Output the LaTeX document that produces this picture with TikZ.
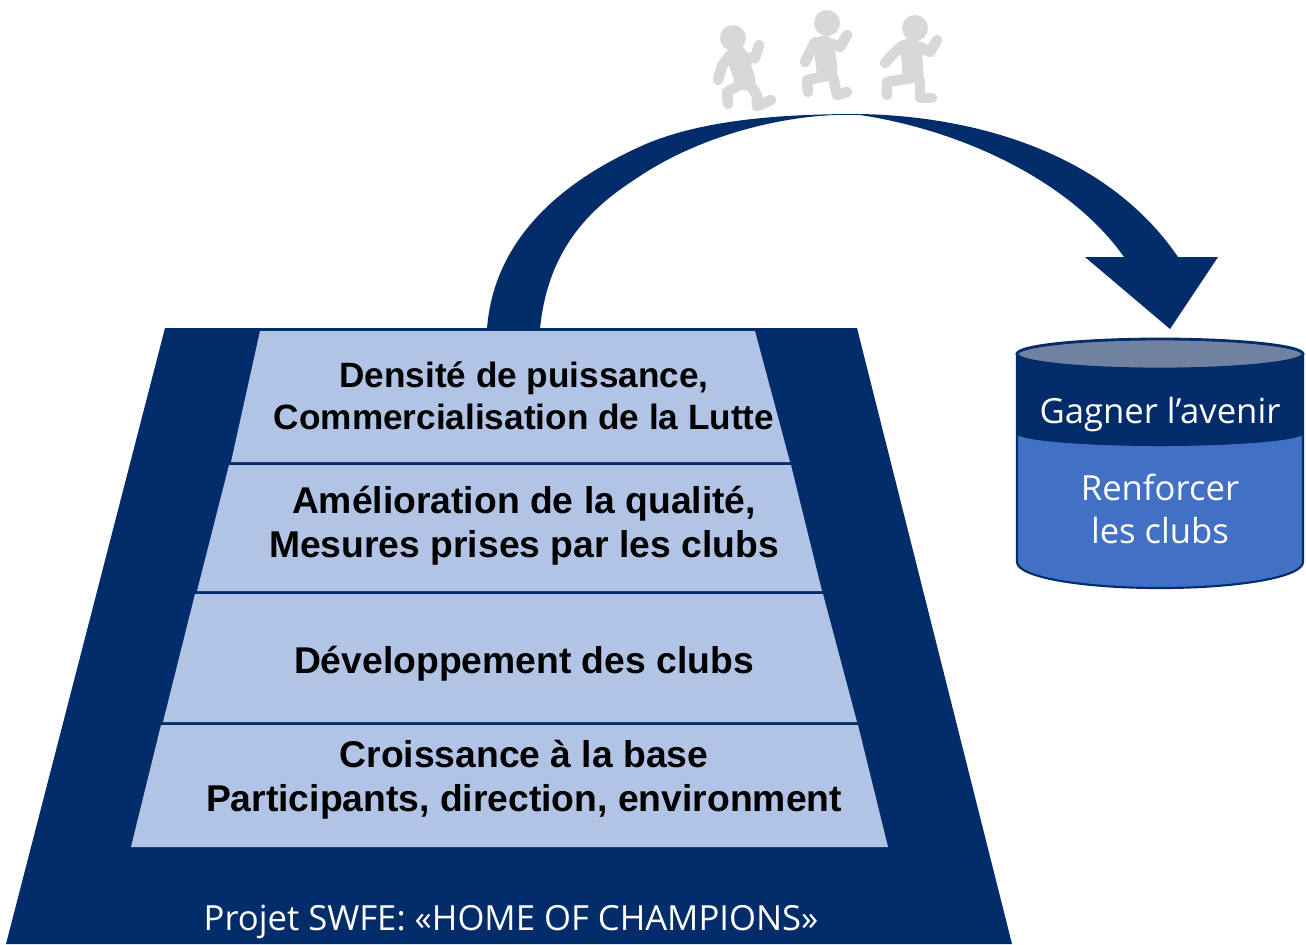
\documentclass[tikz,border=0pt]{standalone}
\usepackage{fontspec}
\setmainfont{Liberation Sans}
\newfontfamily\capfont{Open Sans}
\usetikzlibrary{positioning}
\definecolor{navy1}{RGB}{3,45,106}
\definecolor{pale1}{RGB}{177,196,230}
\definecolor{blue1}{RGB}{66,112,196}
\definecolor{lid1}{RGB}{112,130,160}
\definecolor{grey1}{RGB}{216,216,218}

\tikzset{
    layer/.style={fill=pale1,draw=none},
    steptext/.style={font=\fontsize{10.6}{12.6}\selectfont\bfseries,align=center,text=black,inner sep=0pt},
    toptext/.style={steptext,font=\fontsize{10}{12}\selectfont\bfseries},
    captext/.style={font=\capfont\fontsize{9.85}{12.4}\selectfont,align=center,text=white,inner sep=0pt},
    runlimb/.style={draw=grey1,line width=3pt,line cap=round,line join=round},
    runbody/.style={runlimb,line width=6pt}
}

\begin{document}
\begin{tikzpicture}[x=0.01cm,y=-0.01cm]
    \useasboundingbox (0,0) rectangle (1306,944);

    % big arrow
    \fill[navy1] (487,329) .. controls (492,260) and (535,195) .. (637,148)
        .. controls (700,118) and (790,114) .. (860,114)
        .. controls (970,116) and (1105,150) .. (1178,257)
        -- (1218,257) -- (1170,329) -- (1085,257) -- (1124,257)
        .. controls (1070,180) and (960,130) .. (860,115)
        .. controls (790,112) and (700,135) .. (637,178)
        .. controls (595,205) and (548,245) .. (540,329) -- cycle;

    % pyramid
    \fill[navy1] (165,328) -- (857,328) -- (1012,944) -- (6,944) -- cycle;
    \fill[layer] (260,331) -- (755,331) -- (790,462) -- (231,462) -- cycle;
    \fill[layer] (229,465) -- (791,465) -- (822,591) -- (197,591) -- cycle;
    \fill[layer] (195,594) -- (823,594) -- (857,722) -- (163,722) -- cycle;
    \fill[layer] (161,725) -- (858,725) -- (888,847) -- (131,847) -- cycle;

    \node[toptext]  (power)   at (524,396) {Densité de puissance,\\Commercialisation de la Lutte};
    \node[steptext] (quality) at (524,526) {Amélioration de la qualité,\\Mesures prises par les clubs};
    \node[steptext] (dev)     at (524,664) {Développement des clubs};
    \node[steptext] (base)    at (524,780) {Croissance à la base\\Participants, direction, environment};
    \node[captext]  (swfe)    at (511,922) {Projet SWFE: «HOME OF CHAMPIONS»};

    % cylinder
    \fill[blue1,draw=navy1,line width=0.6pt] (1017,354) -- (1017,562) .. controls (1017,577) and (1081,588) .. (1160,588)
        .. controls (1239,588) and (1303,577) .. (1303,562) -- (1303,354) -- cycle;
    \fill[navy1] (1017,354) -- (1017,435) .. controls (1030,442) and (1095,446) .. (1160,446)
        .. controls (1225,446) and (1290,442) .. (1303,435) -- (1303,354) -- cycle;
    \fill[lid1,draw=navy1,line width=0.8pt] (1160,354) ellipse (143 and 15);

    \node[captext] (future) at (1160,414) {Gagner l’avenir};
    \node[captext] (clubs)  at (1160,509) {Renforcer\\les clubs};

    % runners
    \fill[grey1] (733,38) circle (13);
    \draw[runbody] (737,56) -- (745,80);
    \draw[runlimb] (730,55) -- (722,66) -- (718,80);
    \draw[runlimb] (742,58) -- (755,58) -- (759,45);
    \draw[runlimb] (745,82) -- (727,92) -- (728,104);
    \draw[runlimb] (750,85) -- (757,95) -- (757,106) -- (771,100);

    \fill[grey1] (827,23) circle (13);
    \draw[runbody] (824,46) -- (827,70);
    \draw[runlimb] (815,42) -- (810,52) -- (805,62);
    \draw[runlimb] (832,44) -- (840,47) -- (847,35);
    \draw[runlimb] (827,76) -- (807,80) -- (808,92);
    \draw[runlimb] (833,77) -- (837,95) -- (847,92);

    \fill[grey1] (915,28) circle (13);
    \draw[runbody] (911,48) -- (913,73);
    \draw[runlimb] (903,45) -- (893,54) -- (885,63);
    \draw[runlimb] (920,47) -- (930,52) -- (937,40);
    \draw[runlimb] (910,78) -- (887,82) -- (887,95);
    \draw[runlimb] (920,80) -- (920,98) -- (932,98);
\end{tikzpicture}
\end{document}
